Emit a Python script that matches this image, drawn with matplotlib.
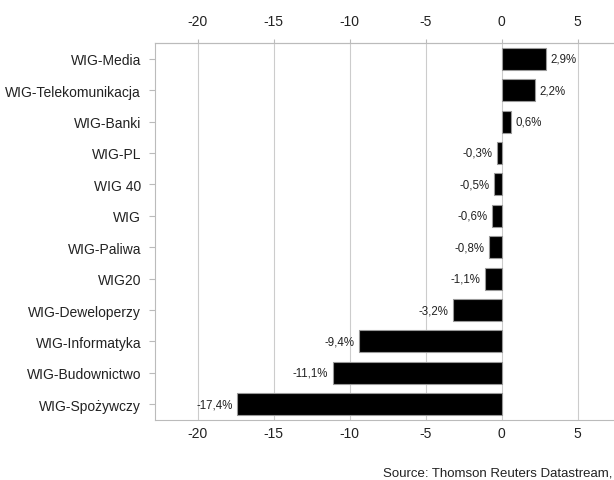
import matplotlib
matplotlib.use("Agg")
import matplotlib.pyplot as plt

plt.rcParams['font.family'] = ['Liberation Sans', 'DejaVu Sans']

# data (top to bottom)
indices = ['WIG-Media', 'WIG-Telekomunikacja', 'WIG-Banki', 'WIG-PL', 'WIG 40', 'WIG',
           'WIG-Paliwa', 'WIG20', 'WIG-Deweloperzy', 'WIG-Informatyka',
           'WIG-Budownictwo', 'WIG-Spożywczy']
changes = [2.9, 2.2, 0.6, -0.3, -0.5, -0.6, -0.8, -1.1, -3.2, -9.4, -11.1, -17.4]
xticks = [-20, -15, -10, -5, 0, 5]

fig = plt.figure(figsize=(6.14, 4.81), dpi=100)
ax = fig.add_axes([0.2524, 0.1247, 0.7476, 0.7838])

pos = list(range(len(indices)))[::-1]
ax.barh(pos, changes, height=0.7, color='black', edgecolor='#999999', linewidth=0.8, zorder=3)

for p, v in zip(pos, changes):
    lbl = ('%.1f%%' % v).replace('.', ',')
    if v >= 0:
        ax.text(v + 0.3, p, lbl, va='center', ha='left', fontsize=8.3, color='#222222')
    else:
        ax.text(v - 0.3, p, lbl, va='center', ha='right', fontsize=8.3, color='#222222')

ax.set_xlim(-22.8, 7.4)
ax.set_ylim(-0.5, 11.5)
ax.set_yticks(pos)
ax.set_yticklabels(indices, fontsize=10, color='#222222')
ax.set_xticks(xticks)
ax.set_xticklabels([str(t) for t in xticks], fontsize=10, color='#222222')
ax.tick_params(axis='x', length=0, pad=4)
ax.tick_params(axis='y', length=4, color='#bbbbbb', pad=6)
ax.grid(axis='x', color='#cccccc', linewidth=0.8, zorder=0)

top = ax.secondary_xaxis('top')
top.set_xticks(xticks)
top.set_xticklabels([str(t) for t in xticks], fontsize=10, color='#222222')
top.tick_params(length=3, color='#bbbbbb', pad=8)
top.spines['top'].set_color('#bbbbbb')

for s in ['left', 'top', 'bottom']:
    ax.spines[s].set_color('#bbbbbb')
ax.spines['right'].set_visible(False)

fig.text(0.998, 0.016, 'Source: Thomson Reuters Datastream,', ha='right', va='center',
         fontsize=9.5, color='#222222')

fig.savefig('out.png', dpi=100)
